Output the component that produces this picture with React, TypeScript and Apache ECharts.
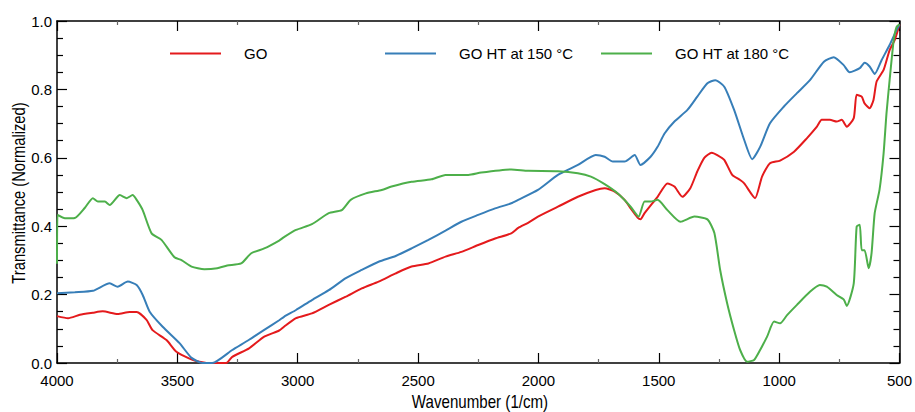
import React, { useEffect, useRef } from "react";
import * as echarts from "echarts";

const FONT = "'Liberation Sans', Arial, sans-serif";

const seriesNames = ["GO", "GO HT at 150 °C", "GO HT at 180 °C"];
const seriesColors = ["#e41a1c", "#377eb8", "#4daf4a"];

const xTicks = [4000, 3500, 3000, 2500, 2000, 1500, 1000, 500];
const yTicks = [0.0, 0.2, 0.4, 0.6, 0.8, 1.0];

// GO (red)
const goWn = [4000, 3954, 3905, 3851, 3810, 3748, 3698, 3669, 3628, 3603, 3545, 3504, 3437, 3379, 3297, 3272, 3202, 3139, 3077, 3057, 3007, 2941, 2871, 2800, 2734, 2664, 2593, 2527, 2457, 2386, 2320, 2250, 2180, 2113, 2084, 2043, 2002, 1919, 1836, 1762, 1725, 1683, 1642, 1617, 1588, 1576, 1559, 1505, 1464, 1435, 1402, 1369, 1340, 1311, 1280, 1257, 1228, 1195, 1162, 1145, 1100, 1071, 1038, 996, 938, 885, 843, 823, 789, 761, 740, 719, 690, 678, 657, 645, 624, 608, 595, 566, 541, 520, 500];
const goVal = [0.137, 0.131, 0.141, 0.147, 0.151, 0.143, 0.149, 0.149, 0.126, 0.096, 0.067, 0.033, 0.009, 0.0, 0.0, 0.018, 0.043, 0.077, 0.095, 0.106, 0.131, 0.145, 0.17, 0.194, 0.218, 0.238, 0.262, 0.282, 0.291, 0.311, 0.325, 0.345, 0.364, 0.379, 0.395, 0.41, 0.428, 0.457, 0.486, 0.506, 0.511, 0.501, 0.477, 0.452, 0.425, 0.42, 0.438, 0.486, 0.525, 0.516, 0.486, 0.511, 0.56, 0.6, 0.615, 0.608, 0.594, 0.55, 0.535, 0.525, 0.482, 0.545, 0.584, 0.592, 0.618, 0.657, 0.691, 0.711, 0.711, 0.706, 0.711, 0.691, 0.716, 0.784, 0.779, 0.759, 0.745, 0.769, 0.823, 0.857, 0.915, 0.944, 0.99];

// GO HT at 150 °C (blue)
const ht150Wn = [4000, 3926, 3851, 3781, 3748, 3706, 3669, 3644, 3615, 3561, 3491, 3441, 3396, 3355, 3272, 3202, 3139, 3077, 3057, 3007, 2941, 2871, 2800, 2734, 2664, 2593, 2527, 2457, 2386, 2320, 2250, 2180, 2113, 2084, 2002, 1919, 1836, 1762, 1725, 1691, 1642, 1600, 1576, 1534, 1505, 1476, 1435, 1381, 1340, 1298, 1265, 1228, 1187, 1145, 1112, 1079, 1038, 980, 926, 872, 814, 773, 732, 707, 665, 645, 624, 603, 574, 541, 512, 500];
const ht150Val = [0.204, 0.207, 0.211, 0.233, 0.223, 0.238, 0.228, 0.199, 0.15, 0.106, 0.058, 0.015, 0.0, 0.0, 0.038, 0.068, 0.097, 0.125, 0.135, 0.155, 0.184, 0.213, 0.248, 0.272, 0.296, 0.313, 0.335, 0.36, 0.387, 0.413, 0.433, 0.452, 0.467, 0.477, 0.506, 0.55, 0.579, 0.608, 0.603, 0.589, 0.589, 0.608, 0.579, 0.603, 0.632, 0.671, 0.706, 0.74, 0.779, 0.818, 0.827, 0.808, 0.74, 0.652, 0.596, 0.632, 0.701, 0.75, 0.789, 0.827, 0.881, 0.894, 0.871, 0.85, 0.862, 0.878, 0.867, 0.845, 0.886, 0.93, 0.974, 0.99];

// GO HT at 180 °C (green)
const ht180Wn = [4000, 3998, 3967, 3926, 3884, 3851, 3830, 3801, 3781, 3739, 3710, 3686, 3669, 3644, 3607, 3566, 3512, 3483, 3441, 3388, 3334, 3293, 3235, 3193, 3139, 3077, 3057, 3007, 2941, 2871, 2817, 2780, 2717, 2651, 2610, 2527, 2444, 2386, 2291, 2238, 2113, 2043, 1919, 1836, 1782, 1725, 1671, 1617, 1584, 1559, 1534, 1505, 1464, 1410, 1352, 1298, 1269, 1245, 1216, 1187, 1162, 1133, 1104, 1079, 1050, 1021, 996, 967, 926, 872, 831, 802, 761, 732, 719, 690, 678, 665, 657, 645, 628, 616, 603, 583, 566, 554, 541, 524, 512, 500];
const ht180Val = [0.29, 0.433, 0.423, 0.424, 0.454, 0.482, 0.472, 0.472, 0.462, 0.491, 0.482, 0.491, 0.477, 0.447, 0.379, 0.36, 0.309, 0.301, 0.282, 0.274, 0.277, 0.285, 0.291, 0.321, 0.335, 0.358, 0.368, 0.389, 0.406, 0.438, 0.447, 0.477, 0.496, 0.506, 0.516, 0.53, 0.537, 0.55, 0.55, 0.557, 0.566, 0.562, 0.561, 0.555, 0.545, 0.523, 0.496, 0.457, 0.428, 0.472, 0.472, 0.477, 0.447, 0.413, 0.428, 0.42, 0.38, 0.272, 0.175, 0.096, 0.038, 0.004, 0.009, 0.038, 0.077, 0.121, 0.116, 0.14, 0.17, 0.208, 0.228, 0.223, 0.199, 0.186, 0.167, 0.233, 0.399, 0.404, 0.33, 0.33, 0.277, 0.321, 0.438, 0.506, 0.613, 0.73, 0.827, 0.944, 0.983, 0.99];

const pairs = (xs: number[], ys: number[]) => xs.map((x, i) => [x, ys[i]]);
const seriesData = [pairs(goWn, goVal), pairs(ht150Wn, ht150Val), pairs(ht180Wn, ht180Val)];

const legendLeft = [170, 385, 601];

export default function App() {
  const ref = useRef<HTMLDivElement>(null);
  useEffect(() => {
    if (!ref.current) return;
    const chart = echarts.init(ref.current, null, { renderer: "svg" });
    const baseX = {
      type: "value",
      min: xTicks[xTicks.length - 1],
      max: xTicks[0],
      interval: 500,
      inverse: true,
      splitLine: { show: false },
      axisLine: { show: true, onZero: false, lineStyle: { color: "#000", width: 1.5 } },
      axisTick: { show: true, inside: true, length: 10, lineStyle: { color: "#000", width: 1.2 } },
      minorTick: { show: true, splitNumber: 2, length: 4, lineStyle: { color: "#666", width: 1.2 } },
    };
    const baseY = {
      type: "value",
      min: yTicks[0],
      max: yTicks[yTicks.length - 1],
      interval: 0.2,
      splitLine: { show: false },
      axisLine: { show: true, onZero: false, lineStyle: { color: "#000", width: 1.5 } },
      axisTick: { show: true, inside: true, length: 10, lineStyle: { color: "#000", width: 1.2 } },
      minorTick: { show: true, splitNumber: 4, length: 6, lineStyle: { color: "#000", width: 1.2 } },
    };
    chart.setOption({
      animation: false,
      backgroundColor: "#fff",
      grid: { left: 57, right: 12, top: 21, bottom: 49, containLabel: false },
      legend: seriesNames.map((n, i) => ({
        data: [n],
        left: legendLeft[i],
        top: 46,
        padding: 0,
        icon: "rect",
        itemWidth: 51,
        itemHeight: 2,
        textStyle: { fontSize: 15, fontFamily: FONT, color: "#000", padding: [0, 0, 0, 18] },
      })),
      xAxis: [
        {
          ...baseX,
          position: "bottom",
          axisLabel: {
            show: true,
            margin: 10,
            fontSize: 15,
            fontFamily: FONT,
            color: "#000",
            formatter: (v: number) => String(v),
          },
        },
        { ...baseX, position: "top", axisLabel: { show: false } },
      ],
      yAxis: [
        {
          ...baseY,
          position: "left",
          axisLabel: {
            show: true,
            margin: 5,
            fontSize: 15,
            fontFamily: FONT,
            color: "#000",
            formatter: (v: number) => v.toFixed(1),
          },
        },
        { ...baseY, position: "right", axisLabel: { show: false } },
      ],
      graphic: [
        {
          type: "text",
          x: 480,
          y: 402,
          scaleX: 0.84,
          style: {
            text: "Wavenumber (1/cm)",
            align: "center",
            verticalAlign: "middle",
            fontSize: 18,
            fontFamily: FONT,
            fill: "#000",
          },
        },
        {
          type: "text",
          x: 18,
          y: 193,
          rotation: Math.PI / 2,
          scaleX: 0.82,
          style: {
            text: "Transmittance (Normalized)",
            align: "center",
            verticalAlign: "middle",
            fontSize: 18,
            fontFamily: FONT,
            fill: "#000",
          },
        },
      ],
      series: seriesNames.map((n, i) => ({
        name: n,
        type: "line",
        xAxisIndex: 0,
        yAxisIndex: 0,
        data: seriesData[i],
        showSymbol: false,
        symbol: "none",
        smooth: 0.2,
        lineStyle: { color: seriesColors[i], width: 2 },
        itemStyle: { color: seriesColors[i] },
      })),
    });
    return () => chart.dispose();
  }, []);
  return (
    <div
      ref={ref}
      style={{ position: "absolute", left: 0, top: 0, width: 915, height: 412 }}
    />
  );
}
